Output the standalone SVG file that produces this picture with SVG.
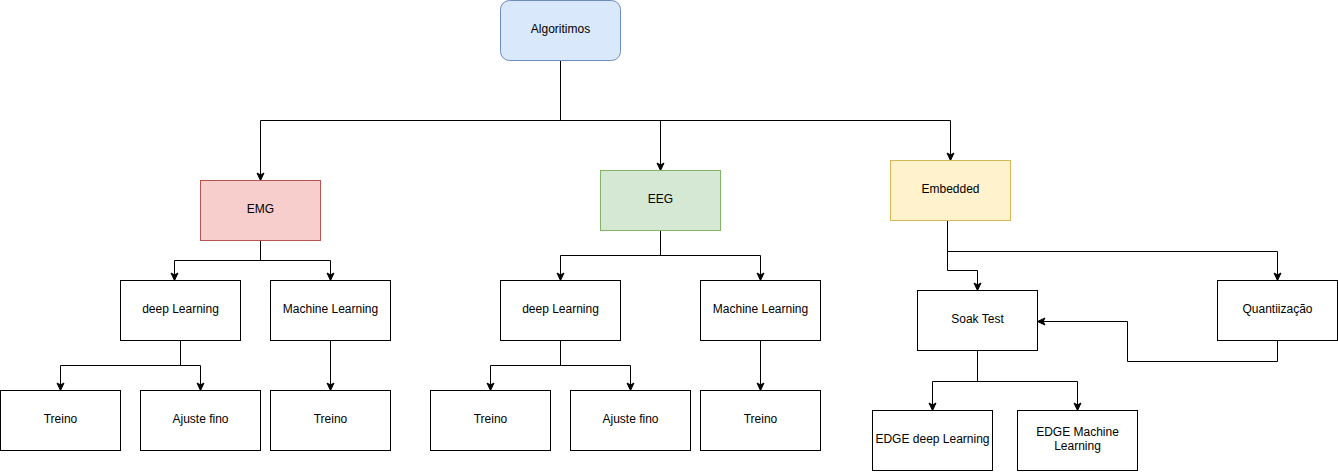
<svg xmlns="http://www.w3.org/2000/svg" width="1338" height="472" viewBox="0 0 1338 472">
<style>
  .box { fill: #ffffff; stroke: #000000; stroke-width: 1; }
  .lbl { font-family: "Liberation Sans", Arial, Helvetica, sans-serif; font-size: 12px; fill: #000000; text-anchor: middle; dominant-baseline: central; }
  .edge { fill: none; stroke: #000000; stroke-width: 1; marker-end: url(#arrow); }
</style>
<defs>
  <marker id="arrow" markerUnits="userSpaceOnUse" markerWidth="10" markerHeight="10" refX="8" refY="4.5" orient="auto" overflow="visible">
    <path d="M0.5,1 L8,4.5 L0.5,8 L2.4,4.5 Z" fill="#000000" stroke="#000000" stroke-width="1"/>
  </marker>
</defs>
<rect width="1338" height="472" fill="#ffffff"/>
<g id="connectors">
  <path class="edge" d="M560.5,60.5 V120.5 H260.5 V180.5"/>
  <path class="edge" d="M560.5,60.5 V120.5 H660.5 V170.5"/>
  <path class="edge" d="M560.5,60.5 V120.5 H950.5 V160.5"/>
  <path class="edge" d="M260.5,240.5 V260.5 H174.5 V280.5"/>
  <path class="edge" d="M260.5,240.5 V260.5 H330.5 V280.5"/>
  <path class="edge" d="M180.5,340.5 V365.5 H60.5 V390.5"/>
  <path class="edge" d="M180.5,340.5 V365.5 H200.5 V390.5"/>
  <path class="edge" d="M330.5,340.5 V390.5"/>
  <path class="edge" d="M660.5,230.5 V255.5 H560.5 V280.5"/>
  <path class="edge" d="M660.5,230.5 V255.5 H760.5 V280.5"/>
  <path class="edge" d="M560.5,340.5 V365.5 H490.5 V390.5"/>
  <path class="edge" d="M560.5,340.5 V365.5 H630.5 V390.5"/>
  <path class="edge" d="M760.5,340.5 V390.5"/>
  <path class="edge" d="M947.5,220.5 V270.5 H977.5 V290.5"/>
  <path class="edge" d="M947.5,220.5 V251.5 H1277.5 V280.5"/>
  <path class="edge" d="M1277.5,340.5 V361.5 H1127.5 V321.5 H1037.5"/>
  <path class="edge" d="M977.5,350.5 V381.5 H932.5 V410.5"/>
  <path class="edge" d="M977.5,350.5 V381.5 H1077.5 V410.5"/>
</g>
<g id="algoritimos">
  <rect x="500.5" y="0.5" width="120" height="60" rx="9" ry="9" fill="#dae8fc" stroke="#6c8ebf"/>
  <text class="lbl" x="560.5" y="28.5">Algoritimos</text>
</g>
<g id="emg">
  <rect x="200.5" y="180.5" width="120" height="60" fill="#f8cecc" stroke="#b85450"/>
  <text class="lbl" x="260.5" y="208.5">EMG</text>
</g>
<g id="eeg">
  <rect x="600.5" y="170.5" width="120" height="60" fill="#d5e8d4" stroke="#82b366"/>
  <text class="lbl" x="660.5" y="198.5">EEG</text>
</g>
<g id="embedded">
  <rect x="890.5" y="160.5" width="120" height="60" fill="#fff2cc" stroke="#d6b656"/>
  <text class="lbl" x="950.5" y="188.5">Embedded</text>
</g>
<g id="emg-deep">
  <rect class="box" x="120.5" y="280.5" width="120" height="60"/>
  <text class="lbl" x="180.5" y="308.5">deep Learning</text>
</g>
<g id="emg-ml">
  <rect class="box" x="270.5" y="280.5" width="120" height="60"/>
  <text class="lbl" x="330.5" y="308.5">Machine Learning</text>
</g>
<g id="emg-treino1">
  <rect class="box" x="0.5" y="390.5" width="120" height="60"/>
  <text class="lbl" x="60.5" y="418.5">Treino</text>
</g>
<g id="emg-ajuste">
  <rect class="box" x="140.5" y="390.5" width="120" height="60"/>
  <text class="lbl" x="200.5" y="418.5">Ajuste fino</text>
</g>
<g id="emg-treino2">
  <rect class="box" x="270.5" y="390.5" width="120" height="60"/>
  <text class="lbl" x="330.5" y="418.5">Treino</text>
</g>
<g id="eeg-deep">
  <rect class="box" x="500.5" y="280.5" width="120" height="60"/>
  <text class="lbl" x="560.5" y="308.5">deep Learning</text>
</g>
<g id="eeg-ml">
  <rect class="box" x="700.5" y="280.5" width="120" height="60"/>
  <text class="lbl" x="760.5" y="308.5">Machine Learning</text>
</g>
<g id="eeg-treino1">
  <rect class="box" x="430.5" y="390.5" width="120" height="60"/>
  <text class="lbl" x="490.5" y="418.5">Treino</text>
</g>
<g id="eeg-ajuste">
  <rect class="box" x="570.5" y="390.5" width="120" height="60"/>
  <text class="lbl" x="630.5" y="418.5">Ajuste fino</text>
</g>
<g id="eeg-treino2">
  <rect class="box" x="700.5" y="390.5" width="120" height="60"/>
  <text class="lbl" x="760.5" y="418.5">Treino</text>
</g>
<g id="soak">
  <rect class="box" x="917.5" y="290.5" width="120" height="60"/>
  <text class="lbl" x="977.5" y="318.5">Soak Test</text>
</g>
<g id="quant">
  <rect class="box" x="1217.5" y="280.5" width="120" height="60"/>
  <text class="lbl" x="1277.5" y="308.5">Quantiização</text>
</g>
<g id="edge-deep">
  <rect class="box" x="872.5" y="410.5" width="120" height="60"/>
  <text class="lbl" x="932.5" y="438.5">EDGE deep Learning</text>
</g>
<g id="edge-ml">
  <rect class="box" x="1017.5" y="410.5" width="120" height="60"/>
  <text class="lbl" x="1077.5" y="431.5">EDGE Machine</text>
  <text class="lbl" x="1077.5" y="445.5">Learning</text>
</g>
</svg>
